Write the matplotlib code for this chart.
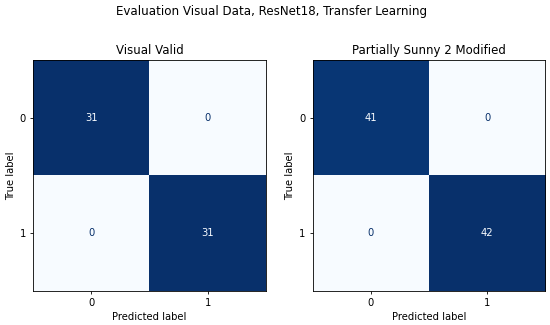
import numpy as np
import matplotlib
matplotlib.use('Agg')
import matplotlib.pyplot as plt

suptitle = 'Evaluation Visual Data, ResNet18, Transfer Learning'
titles = ['Visual Valid', 'Partially Sunny 2 Modified']
class_labels = ['0', '1']
cm_valid = [[31, 0], [0, 31]]
cm_sunny = [[41, 0], [0, 42]]

# original figure looks like a scaled-down sklearn plot, so shrink everything
plt.rcParams['xtick.major.size'] = 2.5
plt.rcParams['ytick.major.size'] = 2.5
plt.rcParams['xtick.major.width'] = 0.6
plt.rcParams['ytick.major.width'] = 0.6
plt.rcParams['xtick.major.pad'] = 2.5
plt.rcParams['ytick.major.pad'] = 2.5
plt.rcParams['axes.linewidth'] = 0.6


def plot_cm(ax, cm, title):
    cm = np.array(cm)
    cmap = plt.get_cmap('Blues')
    ax.imshow(cm, cmap=cmap, vmin=cm.min(), vmax=cm.max(), aspect='auto')
    thresh = (cm.max() + cm.min()) / 2.0
    for i in range(cm.shape[0]):
        for j in range(cm.shape[1]):
            color = cmap(0.0) if cm[i, j] > thresh else cmap(1.0)
            ax.text(j, i, str(cm[i, j]), ha='center', va='center',
                    color=color, fontsize=7.2)
    ax.set_xticks(range(len(class_labels)))
    ax.set_yticks(range(len(class_labels)))
    ax.set_xticklabels(class_labels)
    ax.set_yticklabels(class_labels)
    ax.tick_params(labelsize=7.2)
    ax.set_xlabel('Predicted label', fontsize=7.2, labelpad=2.8)
    ax.set_ylabel('True label', fontsize=7.2, labelpad=2.8)
    ax.set_title(title, fontsize=8.5, pad=4.2)


fig = plt.figure(figsize=(5.5, 3.25), dpi=100)
ax1 = fig.add_axes([0.06, 0.1046, 0.4236, 0.7108])
ax2 = fig.add_axes([0.5682, 0.1046, 0.4236, 0.7108])
plot_cm(ax1, cm_valid, titles[0])
plot_cm(ax2, cm_sunny, titles[1])
fig.suptitle(suptitle, fontsize=8.6, x=0.494, y=0.985)
fig.savefig('out.png', dpi=100)
